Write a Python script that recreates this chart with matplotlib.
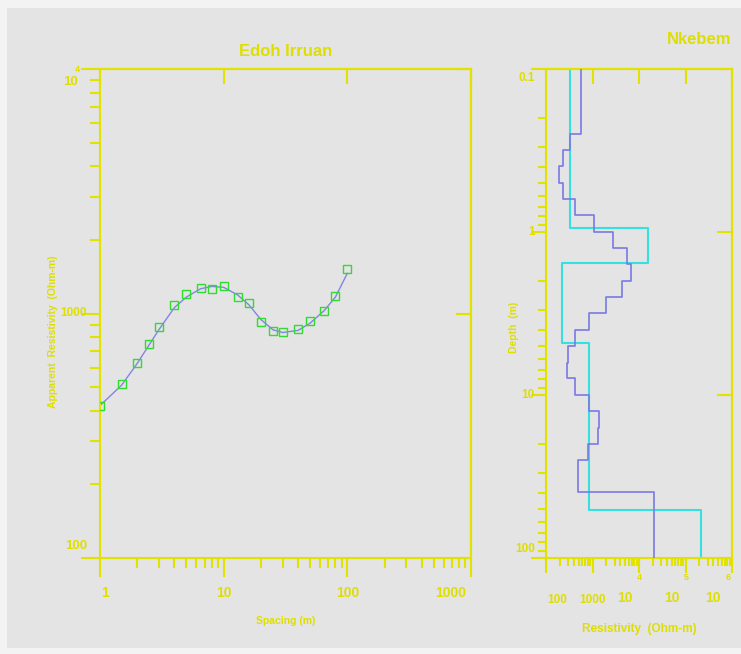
import numpy as np
import matplotlib
matplotlib.use('Agg')
import matplotlib.pyplot as plt
from matplotlib.patches import Rectangle

# Sounding curve data (Edoh Irruan)
spacing = [1, 1.5, 2, 2.5, 3, 4, 5, 6.5, 8, 10, 13, 16, 20, 25, 30, 40, 50, 65, 80, 100]
rhoObserved = [420, 513, 625, 750, 877, 1088, 1207, 1269, 1265, 1298,
               1173, 1099, 919, 847, 839, 868, 930, 1022, 1181, 1526]
rhoFitted = [420, 510, 625, 745, 860, 1058, 1168, 1262, 1290, 1280,
             1190, 1085, 945, 858, 836, 853, 913, 1028, 1166, 1460]

# Layered model (Nkebem) - cyan: layer model, blue: smooth model
layerRho = [333, 15400, 224, 853, 212000]
layerBottom = [0.95, 1.56, 4.83, 50.7]
smoothRho = [574, 328, 236, 193, 229, 427, 1077, 2718, 5600, 6630, 4375, 1950,
             853, 427, 293, 279, 427, 828, 1400, 1333, 812, 495, 21300]
smoothBottom = [0.25, 0.313, 0.396, 0.50, 0.628, 0.791, 1.0, 1.26, 1.57, 1.99,
                2.51, 3.16, 3.97, 4.99, 6.34, 7.91, 9.96, 12.5, 15.9, 19.9, 25.1, 39.5]

BG = '#e4e4e4'
YEL = '#e2e200'
TXT = '#dede00'
FONT = ['Liberation Sans', 'DejaVu Sans']

plt.rcParams['font.family'] = FONT
plt.rcParams['font.weight'] = 'bold'


def stepPath(rho, bottoms, top, base):
    edges = [top] + list(bottoms) + [base]
    xs, ys = [], []
    for i, r in enumerate(rho):
        xs += [r, r]
        ys += [edges[i], edges[i + 1]]
    return xs, ys


def styleAxes(ax, xlim, ylim, majLen, minLen):
    ax.set_facecolor(BG)
    ax.set_xscale('log')
    ax.set_yscale('log')
    ax.set_xlim(*xlim)
    ax.set_ylim(*ylim)
    for s in ax.spines.values():
        s.set_color(YEL)
        s.set_linewidth(1.5)
    ax.tick_params(which='major', direction='out', length=majLen, width=1.5,
                   color=YEL, labelbottom=False, labelleft=False)
    ax.tick_params(which='minor', direction='out', length=minLen, width=1.5,
                   color=YEL, labelbottom=False, labelleft=False)
    sx = ax.secondary_xaxis('top')
    sy = ax.secondary_yaxis('right')
    for sec in (sx, sy):
        sec.tick_params(which='major', direction='in', length=11, width=1.5,
                        color=YEL, labeltop=False, labelright=False)
        sec.tick_params(which='minor', length=0)
        for s in sec.spines.values():
            s.set_color(YEL)
            s.set_linewidth(1.5)


def lab(ax, text, xy, coords, off, size, ha='center', va='center'):
    ax.annotate(text, xy=xy, xycoords=coords, xytext=off, textcoords='offset pixels',
                ha=ha, va=va, color=TXT, fontsize=size, fontweight='bold',
                annotation_clip=False)


fig = plt.figure(figsize=(7.41, 6.54), dpi=100, facecolor='#f3f3f3')
fig.patches.append(Rectangle((7 / 741, 6 / 654), 1, 640 / 654, transform=fig.transFigure,
                             facecolor=BG, edgecolor='none', zorder=-10))

# ---- Left panel: apparent resistivity curve
ax1 = fig.add_axes([100 / 741, 96 / 654, 371 / 741, 489 / 654])
styleAxes(ax1, (1, 1000), (100, 10000), 14, 7)
ax1.plot(spacing, rhoFitted, color='#8484e6', lw=1.0, zorder=2)
ax1.plot(spacing, rhoObserved, ls='none', marker='s', ms=6, mfc='none',
         mec='#2fdc2f', mew=1.0, zorder=3)

xc = ('data', 'axes fraction')
yc = ('axes fraction', 'data')
lab(ax1, '1', (1, 0), xc, (5, -35), 10)
lab(ax1, '10', (10, 0), xc, (0, -35), 10)
lab(ax1, '100', (100, 0), xc, (0, -35), 10)
lab(ax1, '1000', (1000, 0), xc, (-20, -35), 10)
lab(ax1, '100', (0, 100), yc, (-13, 12), 9.5, ha='right')
lab(ax1, '1000', (0, 1000), yc, (-13, 0), 8.5, ha='right')
lab(ax1, '10', (0, 10000), yc, (-30, -13), 9.5)
lab(ax1, '4', (0, 10000), yc, (-23, 0), 6.5)

fig.text(286 / 741, 1 - 52 / 654, 'Edoh Irruan', color=TXT, fontsize=12,
         fontweight='bold', ha='center', va='center')
fig.text(285.5 / 741, 1 - 621 / 654, 'Spacing (m)', color=TXT, fontsize=7.5,
         fontweight='bold', ha='center', va='center')
fig.text(53 / 741, 1 - 332 / 654, 'Apparent  Resistivity  (Ohm-m)', color=TXT,
         fontsize=7.5, fontweight='bold', ha='center', va='center', rotation=90)

# ---- Right panel: layered model
ax2 = fig.add_axes([546 / 741, 96 / 654, 186 / 741, 489 / 654])
styleAxes(ax2, (100, 1e6), (100, 0.1), 11, 6)
lx, ly = stepPath(layerRho, layerBottom, 0.1, 100)
sx_, sy_ = stepPath(smoothRho, smoothBottom, 0.1, 100)
ax2.plot(lx, ly, color='#35e0e0', lw=1.5, zorder=2)
ax2.plot(sx_, sy_, color='#7a7ae4', lw=1.2, zorder=3)

lab(ax2, '0.1', (0, 0.1), yc, (-11, -9), 8.5, ha='right')
lab(ax2, '1', (0, 1), yc, (-11, 0), 8.5, ha='right')
lab(ax2, '10', (0, 10), yc, (-11, 0), 8.5, ha='right')
lab(ax2, '100', (0, 100), yc, (-11, 9), 8.5, ha='right')
lab(ax2, '100', (100, 0), xc, (11, -42), 8.5)
lab(ax2, '1000', (1000, 0), xc, (0, -42), 8.5)
for val, dx, ex, exp in [(1e4, -14, 0, '4'), (1e5, -14, 1, '5'), (1e6, -19, -4, '6')]:
    lab(ax2, '10', (val, 0), xc, (dx, -40), 10)
    lab(ax2, exp, (val, 0), xc, (ex, -20), 6.5)

fig.text(731 / 741, 1 - 40 / 654, 'Nkebem', color=TXT, fontsize=12,
         fontweight='bold', ha='right', va='center')
fig.text(514 / 741, 1 - 327 / 654, 'Depth  (m)', color=TXT, fontsize=7.5,
         fontweight='bold', ha='center', va='center', rotation=90)
fig.text(639 / 741, 1 - 629 / 654, 'Resistivity  (Ohm-m)', color=TXT, fontsize=8.5,
         fontweight='bold', ha='center', va='center')

fig.savefig('out.png', dpi=100, facecolor=fig.get_facecolor())
